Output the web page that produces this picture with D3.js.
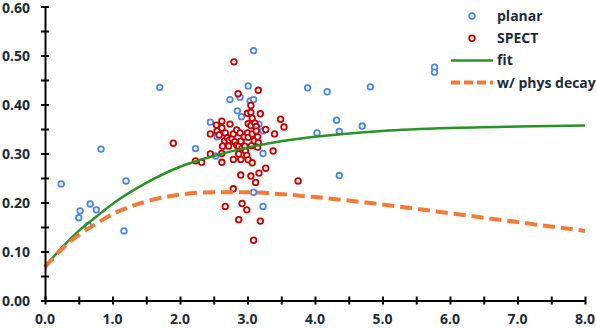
<!DOCTYPE html>
<html lang="en">
<head>
<meta charset="utf-8">
<title>Uptake fit</title>
<script src="https://d3js.org/d3.v7.min.js"></script>
<style>
  body { margin: 0; background: #fff; }
  .lbl { font-family: "Open Sans", "Liberation Sans", sans-serif; font-weight: bold; font-size: 14px; fill: #1d2b36; }
</style>
</head>
<body>
<svg width="596" height="328"></svg>
<script>
// planar points
const planarX = [0.24, 0.52, 0.50, 0.67, 0.76, 0.64, 1.20, 1.17, 1.70, 0.83, 2.23, 3.09, 3.01, 2.74, 2.89, 3.04, 3.09,
  3.89, 4.18, 4.82, 4.32, 4.70, 4.03, 4.36, 2.85, 2.91, 3.17, 3.23, 2.91, 2.95, 3.23, 2.45, 2.53, 4.36, 3.09, 3.23,
  5.77, 5.77, 2.55];
const planarY = [0.238, 0.183, 0.169, 0.197, 0.185, 0.153, 0.244, 0.142, 0.435, 0.309, 0.310, 0.510, 0.438, 0.410, 0.415, 0.407, 0.410,
  0.434, 0.426, 0.436, 0.368, 0.356, 0.342, 0.345, 0.387, 0.375, 0.360, 0.346, 0.323, 0.313, 0.300, 0.364, 0.295, 0.255, 0.221, 0.192,
  0.476, 0.466, 0.334];

// SPECT points
const spectX = [1.90, 2.23, 2.32, 2.45, 2.45, 2.54, 2.55, 2.58, 2.62, 2.62, 2.62, 2.62, 2.66, 2.67, 2.63, 2.70, 2.73, 2.72,
  2.74, 2.77, 2.79, 2.81, 2.84, 2.84, 2.87, 2.92, 2.87, 2.79, 2.89, 2.90, 2.90, 2.95, 2.96, 2.97, 2.99, 3.00, 3.00, 3.01,
  3.01, 3.01, 3.05, 3.05, 3.05, 3.07, 3.07, 3.06, 3.07, 3.10, 3.11, 3.13, 3.13, 3.15, 3.16, 3.16, 3.15, 3.19, 3.27, 3.27,
  3.40, 3.38, 3.49, 3.54, 2.80, 2.86, 2.90, 3.05, 3.17, 3.12, 3.75, 2.79, 2.67, 2.92, 2.99, 2.87, 3.19, 3.09];
const spectY = [0.321, 0.285, 0.282, 0.299, 0.340, 0.358, 0.346, 0.338, 0.366, 0.352, 0.300, 0.282, 0.326, 0.342, 0.315, 0.332, 0.327, 0.315,
  0.360, 0.330, 0.340, 0.324, 0.348, 0.317, 0.315, 0.311, 0.299, 0.288, 0.342, 0.325, 0.288, 0.334, 0.315, 0.305, 0.296, 0.382, 0.342, 0.361,
  0.333, 0.287, 0.398, 0.384, 0.357, 0.372, 0.340, 0.316, 0.281, 0.326, 0.362, 0.355, 0.346, 0.334, 0.429, 0.322, 0.313, 0.381, 0.349, 0.270,
  0.340, 0.305, 0.370, 0.354, 0.487, 0.422, 0.256, 0.254, 0.260, 0.241, 0.244, 0.228, 0.192, 0.198, 0.185, 0.165, 0.162, 0.123];

// curves
const curveX = [0, 0.25, 0.5, 0.75, 1.0, 1.5, 2.0, 2.5, 3.0, 3.5, 4.0, 5.0, 6.0, 7.0, 8.0];
const fitY   = [0.069, 0.108, 0.142, 0.170, 0.197, 0.240, 0.273, 0.295, 0.312, 0.325, 0.334, 0.346, 0.352, 0.355, 0.357];
const decayY = [0.068, 0.105, 0.134, 0.156, 0.176, 0.202, 0.216, 0.221, 0.221, 0.217, 0.211, 0.196, 0.178, 0.160, 0.142];

const xTicks = [0, 1, 2, 3, 4, 5, 6, 7, 8];
const yTicks = [0, 0.1, 0.2, 0.3, 0.4, 0.5, 0.6];

const svg = d3.select("svg");
const x = d3.scaleLinear().domain([0, 8]).range([45, 585]);
const y = d3.scaleLinear().domain([0, 0.6]).range([300.5, 6.5]);

//points
function dots(xs, ys, col) {
  svg.append("g").selectAll("circle")
    .data(xs.map((d, i) => [d, ys[i]]))
    .enter().append("circle")
    .attr("cx", d => x(d[0]))
    .attr("cy", d => y(d[1]))
    .attr("r", 2.8)
    .attr("fill", "#fff")
    .attr("stroke", col)
    .attr("stroke-width", 1.8);
}
dots(planarX, planarY, "#4a86ee");
dots(spectX, spectY, "#c80000");

//curves
const line = d3.line().x(d => x(d[0])).y(d => y(d[1])).curve(d3.curveMonotoneX);
svg.append("path")
  .attr("d", line(curveX.map((d, i) => [d, fitY[i]])))
  .attr("fill", "none").attr("stroke", "#259425").attr("stroke-width", 2.5);
svg.append("path")
  .attr("d", line(curveX.map((d, i) => [d, decayY[i]])))
  .attr("fill", "none").attr("stroke", "#f47a3a").attr("stroke-width", 4)
  .attr("stroke-dasharray", "12,6");

//axes
const xAxis = svg.append("g").attr("transform", "translate(0," + y(0) + ")")
  .call(d3.axisBottom(x).tickValues(d3.range(0, 8.01, 0.5)).tickSize(0).tickFormat(""));
xAxis.select(".domain").attr("stroke", "#000").attr("stroke-width", 2);
xAxis.selectAll(".tick line").attr("y1", -4).attr("y2", 4).attr("stroke", "#000").attr("stroke-width", 2);

const yAxis = svg.append("g").attr("transform", "translate(" + x(0) + ",0)")
  .call(d3.axisLeft(y).tickValues(d3.range(0, 0.601, 0.05)).tickSize(0).tickFormat(""));
yAxis.select(".domain").attr("stroke", "#000").attr("stroke-width", 2);
yAxis.selectAll(".tick line").attr("x1", -4).attr("x2", 4).attr("stroke", "#000").attr("stroke-width", 2);

svg.append("g").selectAll("text").data(xTicks).enter().append("text")
  .attr("class", "lbl").attr("x", d => x(d)).attr("y", 324)
  .attr("text-anchor", "middle").text(d => d3.format(".1f")(d));
svg.append("g").selectAll("text").data(yTicks).enter().append("text")
  .attr("class", "lbl").attr("x", 30).attr("y", d => Math.max(y(d) + 5, 13))
  .attr("text-anchor", "end").text(d => d3.format(".2f")(d));

//legend
const leg = svg.append("g");
const items = ["planar", "SPECT", "fit", "w/ phys decay"];
items.forEach((t, i) => {
  const ly = 16 + i * 22.2;
  if (i < 2) {
    leg.append("circle").attr("cx", 472).attr("cy", ly).attr("r", 2.8).attr("fill", "#fff")
      .attr("stroke", i == 0 ? "#4a86ee" : "#c80000").attr("stroke-width", 1.8);
  } else {
    leg.append("line").attr("x1", 451).attr("x2", 493).attr("y1", ly).attr("y2", ly)
      .attr("stroke", i == 2 ? "#259425" : "#f47a3a").attr("stroke-width", i == 2 ? 2.5 : 4)
      .attr("stroke-dasharray", i == 2 ? null : "9,4");
  }
  leg.append("text").attr("class", "lbl").attr("x", 497).attr("y", ly + 5).text(t);
});
</script>
</body>
</html>
